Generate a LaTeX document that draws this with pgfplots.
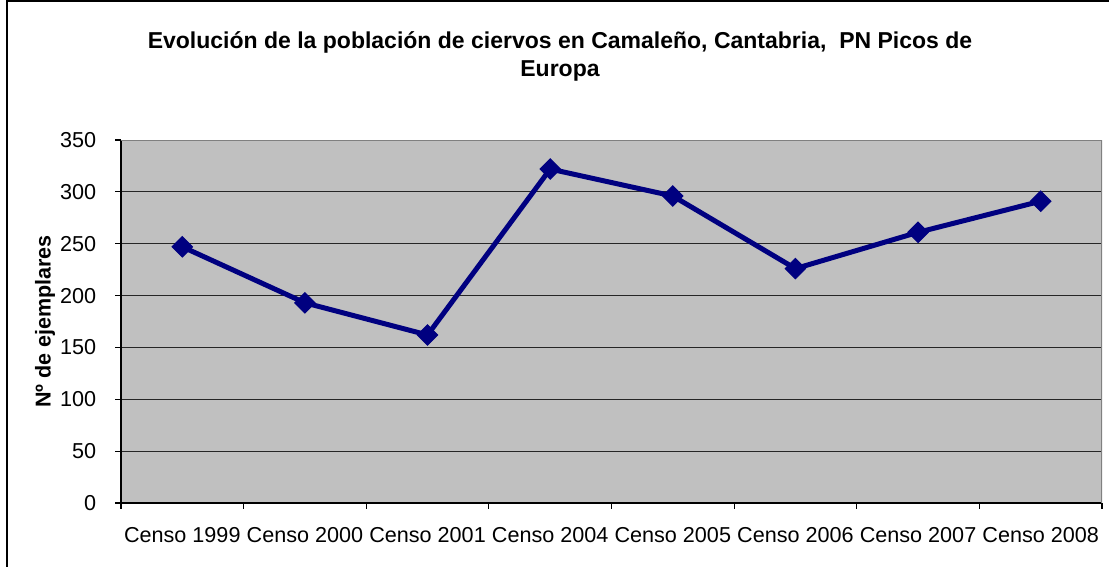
\documentclass[border=0pt]{standalone}
\usepackage{fontspec}
\setmainfont{Liberation Sans}
\usepackage{pgfplots}
\pgfplotsset{compat=1.18}
\definecolor{plotgray}{HTML}{C0C0C0}
\definecolor{bordergray}{HTML}{808080}
\definecolor{navyline}{HTML}{000080}

\begin{document}
\begin{tikzpicture}
\useasboundingbox (0,0) rectangle (554.5bp,283.5bp);
% outer chart frame
\draw[line width=0.75bp] (3.5bp,-5bp) -- (3.5bp,283bp) -- (560bp,283bp);
\node[font=\bfseries\fontsize{11.5bp}{14bp}\selectfont, align=center]
  at (280bp,255.5bp) {Evolución de la población de ciervos en Camaleño, Cantabria,\ \ PN Picos de\\Europa};
\begin{axis}[
    at={(60.5bp,32bp)}, anchor=south west,
    scale only axis,
    width=490.5bp, height=181.5bp,
    xmin=-0.5, xmax=7.5,
    ymin=0, ymax=350,
    axis x line*=bottom, axis y line*=left,
    axis line style={-, black, line width=0.75bp},
    axis background/.style={fill=plotgray},
    tick align=outside,
    tick style={black, line width=0.6bp},
    major tick length=2.75bp,
    xtick={-0.5,0.5,...,7.5},
    xticklabels={},
    extra x ticks={0,1,2,3,4,5,6,7},
    extra x tick labels={Censo 1999,Censo 2000,Censo 2001,Censo 2004,Censo 2005,Censo 2006,Censo 2007,Censo 2008},
    extra x tick style={major tick length=0pt, grid=none,
        xticklabel style={anchor=center, inner sep=0pt, yshift=-16bp}},
    ytick={0,50,...,350},
    ymajorgrids,
    grid style={black!85, line width=0.5bp},
    yticklabel style={anchor=east, inner sep=0pt, xshift=-9.5bp},
    ticklabel style={font=\fontsize{10.8bp}{12bp}\selectfont},
    /pgf/number format/assume math mode=true,
    ylabel={Nº de ejemplares},
    ylabel style={font=\bfseries\fontsize{10.75bp}{12bp}\selectfont,
        at={(axis description cs:-0.0775,0.5)}, anchor=center, rotate=0},
]
\addplot[navyline, line width=2.5bp, mark=square*, mark size=3.6bp,
    mark options={solid, rotate=45, fill=navyline, draw=navyline, line width=0.5bp}]
  coordinates {
    (0,247) (1,193) (2,162) (3,322) (4,296) (5,226) (6,261) (7,291)
  };
\draw[bordergray, line width=1bp] (rel axis cs:0,1) -- (rel axis cs:1,1) -- (rel axis cs:1,0);
\end{axis}
\end{tikzpicture}
\end{document}
